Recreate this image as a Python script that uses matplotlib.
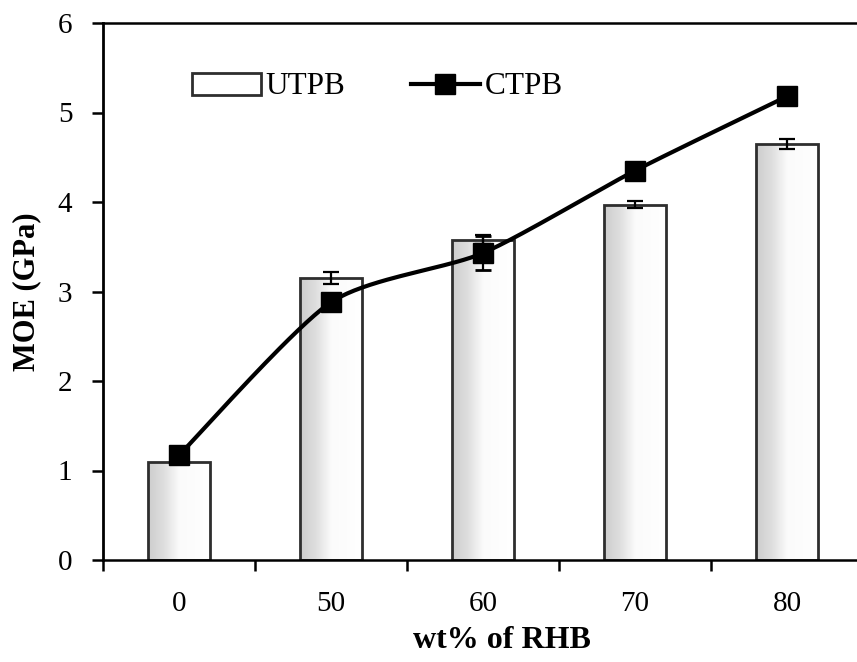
import numpy as np
import matplotlib
matplotlib.use("Agg")
import matplotlib.pyplot as plt
from matplotlib.patches import Rectangle
from matplotlib.lines import Line2D
from matplotlib.colors import LinearSegmentedColormap

categories = ["0", "50", "60", "70", "80"]
utpb = [1.10, 3.15, 3.58, 3.97, 4.65]
utpb_err = [0.0, 0.07, 0.05, 0.04, 0.055]
ctpb = [1.17, 2.88, 3.43, 4.35, 5.18]
ctpb_err = [0.0, 0.0, 0.19, 0.0, 0.0]
yticks = [0, 1, 2, 3, 4, 5, 6]

plt.rcParams['font.family'] = ['Liberation Serif', 'DejaVu Serif']

fig = plt.figure(figsize=(8.57, 6.62), dpi=100)
ax = fig.add_axes([103/857, 1-560/662, 760/857, 537/662])

x = np.arange(len(categories))
bw = 0.41
grad_cmap = LinearSegmentedColormap.from_list("g", [(0, "#cdcdcd"), (0.25, "#dedede"),
                                                    (0.5, "#fbfbfb"), (1, "#ffffff")])
grad = np.linspace(0, 1, 256).reshape(1, -1)
for xi, v in zip(x, utpb):
    rect = Rectangle((xi - bw/2, 0), bw, v, facecolor='white', edgecolor='none', zorder=2)
    ax.add_patch(rect)
    im = ax.imshow(grad, cmap=grad_cmap, aspect='auto',
                   extent=(xi - bw/2, xi + bw/2, 0, v), zorder=2.1, interpolation='bilinear')
    im.set_clip_path(rect)
    ax.add_patch(Rectangle((xi - bw/2, 0), bw, v, facecolor='none', edgecolor='#2e2e2e',
                           linewidth=2.0, zorder=2.5))

ax.errorbar(x, utpb, yerr=utpb_err, fmt='none', ecolor='black', elinewidth=1.6,
            capsize=6, capthick=1.6, zorder=3)

# smoothed connecting line (cubic Bezier through the data points, low tension)
P = np.column_stack([np.array(x, dtype=float), np.array(ctpb, dtype=float)])
Pext = np.vstack([P[0], P, P[-1]])
k = 0.12
sx, sy = [], []
for i in range(1, len(Pext) - 2):
    p0, p1, p2, p3 = Pext[i-1], Pext[i], Pext[i+1], Pext[i+2]
    c1 = p1 + k * (p2 - p0)
    c2 = p2 - k * (p3 - p1)
    t = np.linspace(0, 1, 40)[:, None]
    seg = (1-t)**3*p1 + 3*(1-t)**2*t*c1 + 3*(1-t)*t**2*c2 + t**3*p2
    sx.extend(seg[:, 0]); sy.extend(seg[:, 1])
ax.plot(sx, sy, color='black', linewidth=3.0, zorder=4, solid_capstyle='round')
ax.errorbar(x, ctpb, yerr=ctpb_err, fmt='none', ecolor='black', elinewidth=1.6,
            capsize=6, capthick=2.0, zorder=4.5)
ax.plot(x, ctpb, linestyle='none', marker='s', markersize=14, color='black', zorder=5)

ax.set_xlim(-0.5, 4.5)
ax.set_ylim(0, 6)
ax.set_yticks(yticks)
ax.set_yticklabels([str(t) for t in yticks])
ax.set_xticks(np.arange(-0.5, 5.0, 1.0))
ax.set_xticklabels([])
ax.set_xticks(x, minor=True)
ax.set_xticklabels(categories, minor=True)
ax.tick_params(axis='x', which='major', direction='out', length=8, width=1.8)
ax.tick_params(axis='x', which='minor', length=0, pad=22, labelsize=21)
ax.tick_params(axis='y', direction='out', length=8, width=1.8, pad=14, labelsize=21)

ax.spines['right'].set_visible(False)
ax.spines['left'].set_linewidth(2.0)
ax.spines['bottom'].set_linewidth(1.8)
ax.spines['top'].set_linewidth(1.8)

ax.set_xlabel("wt% of RHB", fontsize=23, fontweight='bold')
ax.xaxis.set_label_coords((502 - 103) / 760, -(626 - 560) / 537)
ax.set_ylabel("MOE (GPa)", fontsize=22, fontweight='bold', labelpad=12)

h1 = Rectangle((0, 0), 1, 1, facecolor='white', edgecolor='#2e2e2e', linewidth=2.0)
h2 = Line2D([], [], color='black', linewidth=3.0, marker='s', markersize=14)
leg = ax.legend([h1, h2], ["UTPB", "CTPB"], ncol=2, frameon=False, fontsize=22.5,
                loc='center left', bbox_to_anchor=(192/857, 1-87/662),
                bbox_transform=fig.transFigure, handlelength=2.2, handleheight=0.7,
                handletextpad=0.15, columnspacing=2.1, borderpad=0, borderaxespad=0)

fig.savefig("out.png", dpi=100)
